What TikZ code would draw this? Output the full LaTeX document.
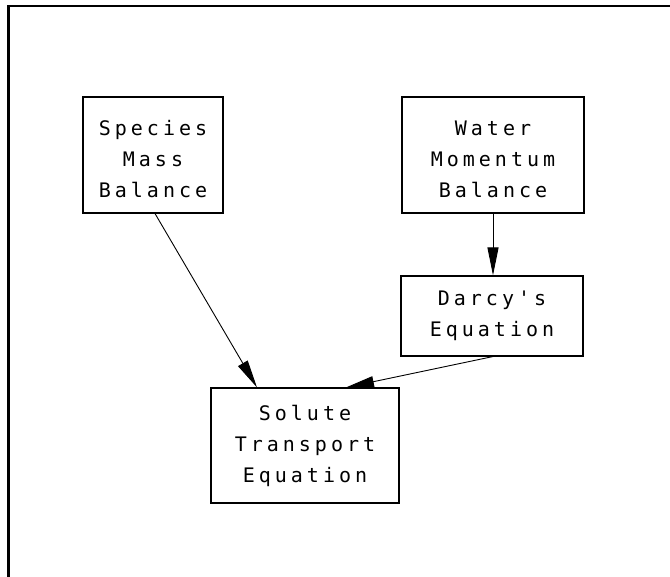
\documentclass[tikz,border=0pt]{standalone}
\usepackage{fontspec}
\newfontfamily\plotfont[LetterSpace=20]{DejaVu Sans Mono}
\usetikzlibrary{arrows.meta}
% taller first line, lowering the text a little inside its box
\newcommand{\dropline}{\rule{0pt}{23pt}}
\begin{document}
\begin{tikzpicture}[x=1pt,y=-1pt,
  block/.style={draw,line width=1.1pt,inner sep=0pt,align=center,
    font=\plotfont\fontsize{20}{31}\selectfont},
  flow/.style={line width=0.9pt,-{Triangle[length=28pt,width=11pt]}}]
\useasboundingbox (0,0) rectangle (670,577);
% partial outer frame
\draw[line width=2.2pt] (8.5,577) -- (8.5,6) -- (670,6);
% blocks
\node[block,minimum width=140pt,minimum height=116pt] (species) at (153,155) {\dropline Species\\Mass\\Balance};
\node[block,minimum width=182pt,minimum height=116pt] (water) at (493,155) {\dropline Water\\Momentum\\Balance};
\node[block,minimum width=182pt,minimum height=80pt] (darcy) at (492,316) {Darcy's\\Equation};
\node[block,minimum width=188pt,minimum height=115pt] (solute) at (305,445.5) {Solute\\Transport\\Equation};
% connectors
\coordinate (s1) at (species.south -| 155,0);
\coordinate (t1) at (solute.north -| 257,0);
\coordinate (t2) at (solute.north -| 346,0);
\coordinate (d1) at (darcy.south -| 493,0);
\draw[flow] (s1) -- (t1);
\draw[flow] (water.south -| d1) -- (darcy.north -| d1);
\draw[flow] (d1) -- (t2);
\end{tikzpicture}
\end{document}
